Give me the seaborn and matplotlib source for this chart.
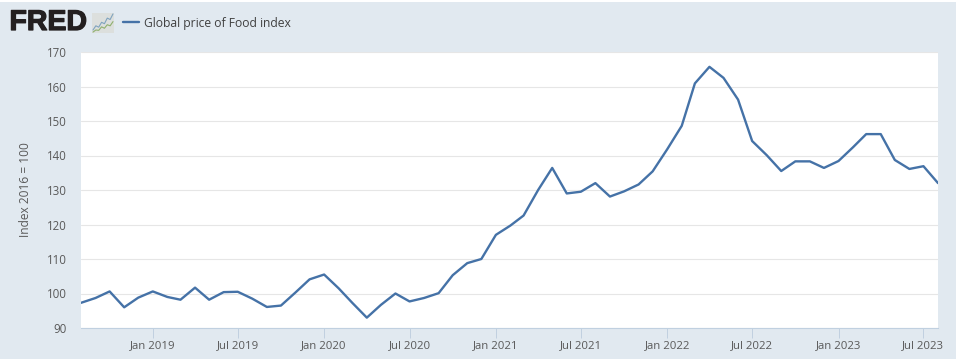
import matplotlib
matplotlib.use("Agg")
import matplotlib.pyplot as plt
import matplotlib.patheffects as pe
from matplotlib.patches import Rectangle
import pandas as pd
import seaborn as sns

# ---------- data ----------
series_name = "Global price of Food index"
y_label = "Index 2016 = 100"
start_month = "2018-08-01"
food_index = [
    97.3, 98.7, 100.6, 96.0, 98.8,
    100.6, 99.0, 98.2, 101.7, 98.2, 100.4, 100.5, 98.5, 96.1, 96.5, 100.3, 104.1,
    105.5, 101.5, 97.3, 93.0, 96.7, 100.0, 97.7, 98.7, 100.1, 105.3, 108.8, 110.0,
    117.0, 119.7, 122.6, 130.0, 136.4, 129.0, 129.5, 132.0, 128.1, 129.6, 131.6, 135.4,
    141.8, 148.6, 160.9, 165.7, 162.5, 156.2, 144.2, 140.1, 135.5, 138.3, 138.3, 136.4,
    138.4, 142.4, 146.2, 146.2, 138.7, 136.1, 136.9, 132.0,
]
y_ticks = [90, 100, 110, 120, 130, 140, 150, 160, 170]
x_tick_dates = ["2019-01-01", "2019-07-01", "2020-01-01", "2020-07-01", "2021-01-01",
                "2021-07-01", "2022-01-01", "2022-07-01", "2023-01-01", "2023-07-01"]
x_tick_labels = ["Jan 2019", "Jul 2019", "Jan 2020", "Jul 2020", "Jan 2021",
                 "Jul 2021", "Jan 2022", "Jul 2022", "Jan 2023", "Jul 2023"]
logo_blue = [1, 2.2, 1.8, 3.2, 2.8, 4.4, 4.0, 5.6]
logo_green = [0.4, 1.0, 0.9, 1.9, 1.5, 2.5, 2.2, 3.4]

# ---------- style ----------
BG = "#e1e9f0"
LINE = "#4572a7"
TEXT = "#595959"
W, H = 956, 359
sns.set_theme(style="white")
plt.rcParams["font.family"] = ["Open Sans", "DejaVu Sans"]

df = pd.DataFrame({
    "date": pd.date_range(start_month, periods=len(food_index), freq="MS"),
    "value": food_index,
})

fig = plt.figure(figsize=(W / 100, H / 100), dpi=100, facecolor=BG)
fig.add_artist(Rectangle((0, 1 - 2 / H), 1, 2 / H, transform=fig.transFigure,
                         facecolor="white", edgecolor="none"))

L, R, T, B = 81, 938, 52, 328
ax = fig.add_axes([L / W, 1 - B / H, (R - L) / W, (B - T) / H], facecolor="white")
sns.lineplot(data=df, x="date", y="value", ax=ax, color=LINE, linewidth=1.7,
             errorbar=None, zorder=3)
ax.set_xlim(df["date"].iloc[0], df["date"].iloc[-1])
ax.set_ylim(y_ticks[0], y_ticks[-1])
ax.set_yticks(y_ticks)
ax.set_xticks(pd.to_datetime(x_tick_dates))
ax.set_xticklabels(x_tick_labels)
ax.grid(axis="y", color="#e6e6e6", linewidth=0.8)
ax.set_axisbelow(True)
for side in ("top", "left", "right"):
    ax.spines[side].set_visible(False)
ax.spines["bottom"].set_color("#c0d0e0")
ax.spines["bottom"].set_linewidth(0.8)
ax.tick_params(axis="x", length=7, width=0.7, color="#c0d0e0", labelcolor=TEXT,
               labelsize=8.2, pad=1.5, bottom=True)
ax.tick_params(axis="y", length=0, labelcolor=TEXT, labelsize=8.3, pad=10.5)
ax.set_xlabel("")
ax.set_ylabel(y_label, color=TEXT, fontsize=8.6, labelpad=10.3)

# ---------- header ----------
fig.text(9.5 / W, 1 - 23 / H, "FRED", family="Liberation Sans", weight="bold",
         fontsize=20.5, color="#231f20", va="center", ha="left",
         path_effects=[pe.withStroke(linewidth=0.9, foreground="#231f20")])
icon = fig.add_axes([92 / W, 1 - 33 / H, 22 / W, 20 / H], facecolor="#dcdfdd")
icon.plot(logo_blue, color="#7fa3bf", linewidth=0.8)
icon.plot(logo_green, color="#8fb06e", linewidth=0.8)
icon.set_xticks([])
icon.set_yticks([])
for s in icon.spines.values():
    s.set_visible(False)

fig.add_artist(plt.Line2D([123 / W, 139 / W], [1 - 22 / H, 1 - 22 / H],
                          color=LINE, linewidth=1.7, transform=fig.transFigure))
fig.text(143.5 / W, 1 - 23 / H, series_name, color="#404040", fontsize=8.7,
         va="center", ha="left")

fig.savefig("out.png", dpi=100, facecolor=BG)
